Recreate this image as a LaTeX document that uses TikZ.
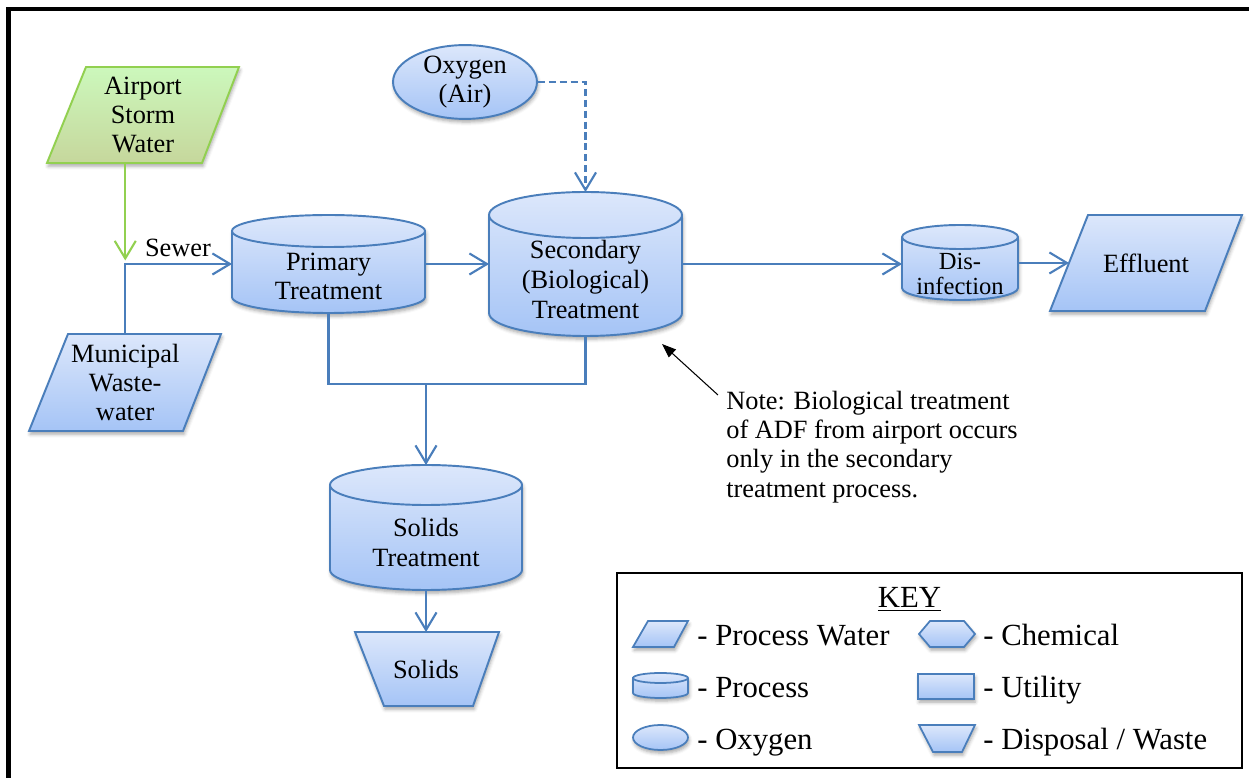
\documentclass[tikz,border=0pt]{standalone}
\usepackage{fontspec}
\setmainfont{Liberation Serif}
\usetikzlibrary{arrows.meta,shapes.geometric,shadows.blur}

\definecolor{procline}{HTML}{4A7EBB}
\definecolor{proctop}{HTML}{DCE7FB}
\definecolor{procbot}{HTML}{A5C4F6}
\definecolor{greenline}{HTML}{92D050}
\definecolor{greentop}{HTML}{CCF8BC}
\definecolor{greenbot}{HTML}{C6D79C}

% vertical process tank: centre x, top-ellipse centre y, bottom-ellipse centre y, half width, ellipse y radius
\newcommand{\proccyl}[6][1.1pt]{%
  \path[procshape, line width=#1] ({#2-#5},#3) -- ({#2-#5},#4)
    arc[start angle=180, end angle=360, x radius=#5, y radius=#6]
    -- ({#2+#5},#3)
    arc[start angle=0, end angle=180, x radius=#5, y radius=#6] -- cycle;
  \draw[draw=procline, line width=#1] ({#2-#5},#3)
    arc[start angle=180, end angle=360, x radius=#5, y radius=#6];
}

\begin{document}
\begin{tikzpicture}[x=0.02cm, y=0.02cm,
  softshadow/.style={blur shadow={shadow xshift=0.6pt, shadow yshift=-1.8pt,
      shadow blur radius=2pt, shadow opacity=35}},
  procshape/.style={draw=procline, line width=1.1pt, top color=proctop,
      bottom color=procbot, softshadow},
  greenshape/.style={draw=greenline, line width=1.1pt, top color=greentop,
      bottom color=greenbot, softshadow},
  hold/.style={rectangle, inner sep=0pt, outer sep=0pt, align=center,
      font=\fontsize{15}{16.6}\selectfont},
  lbl/.style={align=center, inner sep=0pt, font=\fontsize{15}{16.6}\selectfont},
  keytxt/.style={inner sep=0pt, font=\fontsize{17.5}{19}\selectfont},
  pipe/.style={draw=procline, line width=1.2pt},
  flow/.style={pipe, -{Straight Barb[length=10pt, width=12pt]}},
  greenflow/.style={draw=greenline, line width=1.2pt,
      -{Straight Barb[length=10pt, width=12pt]}},
  airflow/.style={flow, dash pattern=on 4pt off 2.2pt},
  notearrow/.style={draw=black, line width=0.6pt, -{Triangle[length=8pt, width=6pt]}}
]
\useasboundingbox (0,0) rectangle (1249,778);

% outer frame (runs off the right and bottom edges)
\draw[line width=0.09cm] (8.5,-30) -- (8.5,769) -- (1290,769);

% ---------- sources ----------
\path[greenshape] (86,711) -- (239,711) -- (202,615) -- (47,615) -- cycle;
\node[hold, minimum width=3.84cm, minimum height=1.92cm] (airport) at (143,663)
  {Airport\\Storm\\Water};

\path[procshape] (68,444) -- (221,444) -- (183,347) -- (29,347) -- cycle;
\node[hold, minimum width=3.84cm, minimum height=1.94cm] (munic) at (125.25,395.5)
  {Municipal\\Waste-\\water};

\node[ellipse, procshape, inner sep=0pt, minimum width=2.88cm, minimum height=1.4cm,
  align=center, font=\fontsize{15}{16.6}\selectfont] (oxy) at (465,696) {Oxygen\\(Air)};

% ---------- treatment units ----------
\proccyl{328.5}{547}{481}{96.5}{16}
\node[hold, minimum width=3.86cm, minimum height=1.96cm] (prim) at (328.5,514) {};
\node[lbl] (prim-t) at (328.5,501.5) {Primary\\Treatment};

\proccyl{585.5}{563}{465}{96.5}{23}
\node[hold, minimum width=3.86cm, minimum height=2.88cm] (sec) at (585.5,514) {};
\node[lbl, font=\fontsize{15}{17.2}\selectfont] (sec-t) at (585.5,498.5) {Secondary\\(Biological)\\Treatment};

\proccyl{960}{541}{490}{58}{12}
\node[hold, minimum width=2.32cm, minimum height=1.5cm] (dis) at (960,515) {};
\node[lbl, font=\fontsize{14}{14.5}\selectfont] (dis-t) at (960,504) {Dis-\\infection};

\path[procshape] (1088,563) -- (1242,563) -- (1205,467) -- (1050,467) -- cycle;
\node[hold, minimum width=3.84cm, minimum height=1.92cm] (eff) at (1146,515) {Effluent};
\coordinate (eff-in) at (1069,515);

\proccyl{426}{293}{208}{96}{20}
\node[hold, minimum width=3.84cm, minimum height=2.5cm] (solt) at (426,250.5) {};
\node[lbl] (solt-t) at (426,235.5) {Solids\\Treatment};

\path[procshape] (355,146) -- (499,146) -- (473,72) -- (384,72) -- cycle;
\node[hold, minimum width=2.88cm, minimum height=1.48cm] (solids) at (426,109) {Solids};

% ---------- connectors ----------
\coordinate (jn) at (munic.north |- prim.west);
\draw[greenflow, shorten >=2pt] (jn |- airport.south) -- (jn);
\draw[flow] (munic.north) |- (prim.west);
\node[lbl] (sewer) at (178,530) {Sewer};

\draw[flow] (prim.east) -- (sec.west);
\draw[flow] (sec.east) -- (sec.east -| dis.west);
\draw[flow] (dis.east) -- (eff-in);
\draw[airflow] (oxy.east) -| (sec.north);

\coordinate (sj) at (426,394);
\draw[pipe] (prim.south) |- (sj);
\draw[pipe] (sec.south) |- (sj);
\draw[flow] (sj) -- (solt.north);
\draw[flow] (solt.south) -- (solids.north);

% ---------- note ----------
\node[lbl, align=left, anchor=west] (note) at (726,331)
  {Note: Biological treatment\\of ADF from airport occurs\\only in the secondary\\treatment process.};
\coordinate (note-tail) at (718,383);
\coordinate (note-tip) at (662,434);
\draw[notearrow] (note-tail) -- (note-tip);

% ---------- key ----------
\draw[line width=1.2pt] (617,205) rectangle (1242,10);
\node[keytxt, anchor=base] (key) at (909.5,170) {\underline{KEY}};

\path[procshape, line width=1pt] (648,157) -- (688,157) -- (674,131) -- (633,131) -- cycle;
\node[keytxt, anchor=base west] (k-water) at (697,132) {- Process Water};

\proccyl[1pt]{660.5}{100}{85}{27.5}{5}
\node[keytxt, anchor=base west] (k-proc) at (697,80) {- Process};

\path[procshape, line width=1pt] (660.5,40.5) ellipse[x radius=27.5, y radius=12.5];
\node[keytxt, anchor=base west] (k-oxy) at (697,28) {- Oxygen};

\path[procshape, line width=1pt] (919,144) -- (930,157) -- (964,157) -- (975,144)
  -- (964,131) -- (930,131) -- cycle;
\node[keytxt, anchor=base west] (k-chem) at (983,132) {- Chemical};

\path[procshape, line width=1pt] (918,104) rectangle (974,79);
\node[keytxt, anchor=base west] (k-util) at (983,80) {- Utility};

\path[procshape, line width=1pt] (919,53) -- (975,53) -- (962,26) -- (933,26) -- cycle;
\node[keytxt, anchor=base west] (k-waste) at (983,28) {- Disposal / Waste};
\end{tikzpicture}
\end{document}
